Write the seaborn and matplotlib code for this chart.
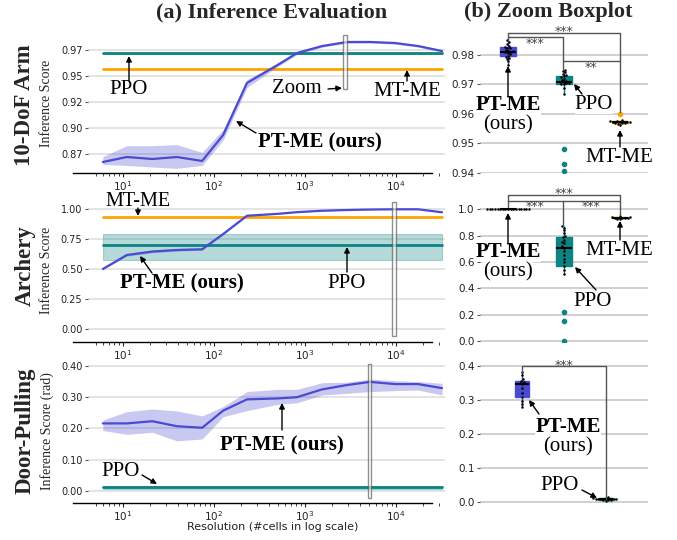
import numpy as np
import pandas as pd
import matplotlib
matplotlib.use("Agg")
import matplotlib.pyplot as plt
import seaborn as sns
from matplotlib.patches import Rectangle, FancyArrowPatch
from matplotlib.ticker import LogLocator, NullFormatter

# ---------------- data ----------------
resolution = [6, 11, 21, 39, 74, 126, 230, 500, 816, 1540, 2900, 5180, 9750, 17500, 32000]

arm_ptme = [0.8673, 0.8721, 0.8702, 0.8721, 0.8683, 0.8933, 0.9433, 0.9606, 0.9721, 0.9788,
            0.9827, 0.9827, 0.9817, 0.9788, 0.9740]
arm_ptme_hi = [0.8725, 0.8830, 0.8830, 0.8840, 0.8765, 0.8985, 0.9465, 0.9625, 0.9735, 0.9800,
               0.9837, 0.9837, 0.9827, 0.9798, 0.9750]
arm_ptme_lo = [0.8650, 0.8640, 0.8625, 0.8612, 0.8640, 0.8885, 0.9390, 0.9590, 0.9707, 0.9776,
               0.9817, 0.9817, 0.9807, 0.9778, 0.9730]
arm_ppo = [0.9718, 0.9713, 0.9723]      # mean, low, high
arm_mtme = [0.9570, 0.9567, 0.9573]

archery_ptme = [0.500, 0.617, 0.646, 0.659, 0.665, 0.793, 0.946, 0.962, 0.976, 0.988,
                0.994, 0.998, 1.000, 1.000, 0.975]
archery_ptme_hi = [0.505, 0.630, 0.660, 0.672, 0.675, 0.800, 0.950, 0.965, 0.978, 0.990,
                   0.996, 0.999, 1.000, 1.000, 0.978]
archery_ptme_lo = [0.495, 0.608, 0.636, 0.650, 0.658, 0.786, 0.942, 0.959, 0.974, 0.986,
                   0.992, 0.997, 1.000, 1.000, 0.972]
archery_ppo = [0.705, 0.574, 0.792]
archery_mtme = [0.933, 0.929, 0.937]

door_ptme = [0.216, 0.216, 0.223, 0.207, 0.202, 0.257, 0.293, 0.296, 0.300, 0.325,
             0.339, 0.349, 0.342, 0.342, 0.329]
door_ptme_hi = [0.227, 0.2535, 0.262, 0.256, 0.240, 0.270, 0.318, 0.325, 0.325, 0.3465,
                0.348, 0.358, 0.353, 0.350, 0.3445]
door_ptme_lo = [0.193, 0.181, 0.1875, 0.160, 0.166, 0.2375, 0.257, 0.277, 0.282, 0.307,
                0.3125, 0.318, 0.321, 0.323, 0.307]
door_ppo = [0.011, 0.006, 0.016]

# zoom windows (x0, x1, y0, y1)
arm_zoom = [2620, 2896, 0.9375, 0.9894]
archery_zoom = [9040, 10000, -0.0586, 1.061]
door_zoom = [4920, 5310, -0.0231, 0.4064]

# boxplot samples
arm_box_ptme = [0.9766, 0.9778, 0.9786, 0.9791, 0.9793, 0.9798, 0.9803, 0.9807, 0.9810, 0.9811,
                0.9812, 0.9815, 0.9818, 0.9822, 0.9825, 0.9827, 0.9832, 0.9838, 0.9844, 0.9850]
arm_box_ppo = [0.9406, 0.9432, 0.9482, 0.9668, 0.9688, 0.9700, 0.9702, 0.9704, 0.9706, 0.9708,
               0.9710, 0.9713, 0.9716, 0.9720, 0.9724, 0.9729, 0.9732, 0.9736, 0.9741, 0.9746,
               0.9750]
arm_box_mtme = [0.9564, 0.9567, 0.9569, 0.9570, 0.9571, 0.9572, 0.9572, 0.9573, 0.9574,
                0.9575, 0.9577, 0.9579, 0.9600]
archery_box_ptme = [1.0] * 17
archery_box_ppo = [0.0, 0.153, 0.221, 0.508, 0.535, 0.571, 0.600, 0.625, 0.650, 0.680, 0.706,
                   0.720, 0.740, 0.755, 0.770, 0.787, 0.800, 0.820, 0.840, 0.860, 0.873]
archery_box_mtme = [0.926, 0.930, 0.933, 0.935, 0.936, 0.937, 0.939, 0.942, 0.946]
door_box_ptme = [0.279, 0.287, 0.298, 0.308, 0.320, 0.335, 0.347, 0.350, 0.353, 0.3565,
                 0.362, 0.372, 0.382]
door_box_ppo = [0.004, 0.006, 0.007, 0.008, 0.009, 0.0095, 0.010, 0.0105, 0.011, 0.012,
                0.013, 0.015]

methods3 = ["PT-ME", "PPO", "MT-ME"]
methods2 = ["PT-ME", "PPO"]

left_yticks = [[0.875, 0.9, 0.925, 0.95, 0.975], [0.0, 0.25, 0.5, 0.75, 1.0],
               [0.0, 0.1, 0.2, 0.3, 0.4]]
left_ylabels = [["0.87", "0.90", "0.92", "0.95", "0.97"],
                ["0.00", "0.25", "0.50", "0.75", "1.00"],
                ["0.00", "0.10", "0.20", "0.30", "0.40"]]
right_yticks = [[0.94, 0.95, 0.96, 0.97, 0.98], [0.0, 0.2, 0.4, 0.6, 0.8, 1.0],
                [0.0, 0.1, 0.2, 0.3, 0.4]]
right_ylabels = [["0.94", "0.95", "0.96", "0.97", "0.98"],
                 ["0.0", "0.2", "0.4", "0.6", "0.8", "1.0"],
                 ["0.0", "0.1", "0.2", "0.3", "0.4"]]
row_titles = ["10-DoF Arm", "Archery", "Door-Pulling"]
row_ylabels = ["Inference Score", "Inference Score", "Inference Score (rad)"]

# ---------------- style ----------------
sns.set_theme(style="white")
plt.rcParams['font.family'] = ['DejaVu Sans']
SERIF = ['Liberation Serif', 'DejaVu Serif']
BLUE = "#4a4ad3"
TEAL = "#0e8383"
ORANGE = "#ffa500"
W, H = 677, 540

fig = plt.figure(figsize=(6.77, 5.4), dpi=100)


def fx(px):
    return px / W


def fy(py):
    return 1 - py / H


rows_y = [(35, 173), (197, 341.7), (360, 503.3)]
left_ylim = [(0.85673, 0.98942), (-0.1089, 1.103), (-0.0401, 0.4192)]
right_ylim = [(0.94014, 0.98676), (-0.0068, 1.0935), (-0.003, 0.4174)]

ax_left = []
ax_right = []
for (t, b) in rows_y:
    ax_left.append(fig.add_axes([fx(88), fy(b), fx(445) - fx(88), (b - t) / H]))
    ax_right.append(fig.add_axes([fx(480), fy(b), fx(648) - fx(480), (b - t) / H]))
for a in ax_left + ax_right:
    a.patch.set_alpha(0)

# ---------------- left panels ----------------
left_data = [
    (arm_ptme, arm_ptme_lo, arm_ptme_hi, arm_ppo, arm_mtme, arm_zoom),
    (archery_ptme, archery_ptme_lo, archery_ptme_hi, archery_ppo, archery_mtme, archery_zoom),
    (door_ptme, door_ptme_lo, door_ptme_hi, door_ppo, None, door_zoom),
]
xr = [resolution[0], resolution[-1]]
for i, ax in enumerate(ax_left):
    ptme, lo, hi, ppo, mtme, zoom = left_data[i]
    ax.set_xscale('log')
    ax.fill_between(xr, [ppo[1]] * 2, [ppo[2]] * 2, color=TEAL, alpha=0.3, lw=0.8,
                    edgecolor=TEAL, zorder=2)
    sns.lineplot(x=xr, y=[ppo[0]] * 2, color=TEAL, lw=2, ax=ax, zorder=3)
    if mtme is not None:
        ax.fill_between(xr, [mtme[1]] * 2, [mtme[2]] * 2, color=ORANGE, alpha=0.3, lw=0, zorder=2)
        sns.lineplot(x=xr, y=[mtme[0]] * 2, color=ORANGE, lw=2, ax=ax, zorder=3)
    ax.fill_between(resolution, lo, hi, color=BLUE, alpha=0.3, lw=0, zorder=4)
    sns.lineplot(x=resolution, y=ptme, color=BLUE, lw=1.6, ax=ax, zorder=5)
    ax.add_patch(Rectangle((zoom[0], zoom[2]), zoom[1] - zoom[0], zoom[3] - zoom[2],
                           facecolor='white', alpha=0.6, edgecolor='#444444', lw=1,
                           zorder=6, clip_on=False))
    ax.set_xlim(4.12, 34500)
    ax.set_ylim(*left_ylim[i])
    ax.set_yticks(left_yticks[i])
    ax.set_yticklabels(left_ylabels[i])
    ax.xaxis.set_major_locator(LogLocator(base=10, numticks=10))
    ax.xaxis.set_minor_locator(LogLocator(base=10, subs=np.arange(2, 10), numticks=20))
    ax.xaxis.set_minor_formatter(NullFormatter())
    ax.set_xlabel('')
    ax.set_ylabel('')
    for s in ['left', 'right', 'top']:
        ax.spines[s].set_visible(False)
    ax.spines['bottom'].set_color('black')
    ax.spines['bottom'].set_linewidth(1)
    ax.spines['bottom'].set_bounds(2.82, 24900)
    ax.grid(axis='y', color='#dcdcdc', lw=1.1)
    ax.grid(axis='x', visible=False)
    ax.set_axisbelow(True)
    ax.tick_params(axis='y', length=2.5, width=0.8, color='#555555', labelsize=7, pad=1.5,
                   left=True, labelcolor='#222222')
    ax.tick_params(axis='x', which='major', length=3, width=0.8, labelsize=7.5, pad=1.5,
                   bottom=True, labelcolor='#222222')
    ax.tick_params(axis='x', which='minor', length=2, width=0.6, bottom=True)

# ---------------- right panels ----------------
box_sets = [
    (methods3, [arm_box_ptme, arm_box_ppo, arm_box_mtme], [BLUE, TEAL, ORANGE], 0.3),
    (methods3, [archery_box_ptme, archery_box_ppo, archery_box_mtme], [BLUE, TEAL, ORANGE], 0.3),
    (methods2, [door_box_ptme, door_box_ppo], [BLUE, TEAL], 0.16),
]
for i, ax in enumerate(ax_right):
    order, samples, cols, width = box_sets[i]
    frames = []
    inl_frames = []
    for m, s in zip(order, samples):
        arr = np.array(s)
        q1, q3 = np.percentile(arr, [25, 75])
        iqr = q3 - q1
        keep = (arr >= q1 - 1.5 * iqr) & (arr <= q3 + 1.5 * iqr)
        frames.append(pd.DataFrame({'method': m, 'value': arr}))
        inl_frames.append(pd.DataFrame({'method': m, 'value': arr[keep]}))
    for m, c, f in zip(order, cols, frames):
        sns.boxplot(data=f, x='method', y='value', order=order, width=width, color=c,
                    linecolor=c, saturation=1, linewidth=1, showcaps=False, fliersize=3,
                    flierprops=dict(marker='o', markerfacecolor=c, markeredgecolor=c),
                    medianprops=dict(color='black', linewidth=1.5),
                    whiskerprops=dict(color=c, linewidth=1), ax=ax, zorder=3)
    inl = pd.concat(inl_frames)
    sns.swarmplot(data=inl, x='method', y='value', order=order, color='black', size=1.8,
                  ax=ax, zorder=4)
    ax.set_ylim(*right_ylim[i])
    ax.set_xlim(-0.5, len(order) - 0.5)
    ax.set_yticks(right_yticks[i])
    ax.set_yticklabels(right_ylabels[i])
    ax.set_xticks([])
    ax.set_xlabel('')
    ax.set_ylabel('')
    for s in ax.spines.values():
        s.set_visible(False)
    ax.grid(axis='y', color='#c4c4c4', lw=1.1)
    ax.set_axisbelow(True)
    ax.tick_params(axis='y', length=2.5, width=0.8, color='#555555', labelsize=7.5, pad=1.5,
                   left=True, labelcolor='#222222')

# ---------------- significance brackets (figure pixels) ----------------
BR = '#555555'


def line_px(pts):
    xs = [fx(p[0]) for p in pts]
    ys = [fy(p[1]) for p in pts]
    fig.add_artist(plt.Line2D(xs, ys, color=BR, lw=1, transform=fig.transFigure, zorder=10))


def stars(x, y, s):
    fig.text(fx(x), fy(y), s, ha='center', va='center', fontsize=9, color='#444444')


# row 1
line_px([(507.7, 40), (507.7, 32.7), (620, 32.7), (620, 112)])
line_px([(507.7, 36.7), (563, 36.7), (563, 70)])
line_px([(563, 61), (620, 61)])
stars(564, 31.5, '***')
stars(535, 43, '***')
stars(591, 67.5, '**')
# row 2
line_px([(507.7, 207), (507.7, 195), (620, 195), (620, 215)])
line_px([(507.7, 200.7), (620, 200.7)])
line_px([(563, 200.7), (563, 226)])
stars(564, 193, '***')
stars(535, 206.5, '***')
stars(591, 206.5, '***')
# row 3
line_px([(521.7, 372), (521.7, 366), (606, 366), (606, 499)])
stars(564, 365, '***')

# ---------------- annotations ----------------


def label(x, y, s, bold=False, size=15, bg=False):
    kw = dict(ha='center', va='center', fontsize=size, family=SERIF, color='black', zorder=20)
    if bold:
        kw['fontweight'] = 'bold'
    if bg:
        kw['bbox'] = dict(facecolor='white', edgecolor='none', pad=0)
    fig.text(fx(x), fy(y), s, **kw)


def arrow(tail, head):
    fig.add_artist(FancyArrowPatch((fx(tail[0]), fy(tail[1])), (fx(head[0]), fy(head[1])),
                                   transform=fig.transFigure, arrowstyle='-|>',
                                   mutation_scale=8, lw=1, color='black',
                                   shrinkA=0, shrinkB=0, zorder=21))


# left row 1
label(129, 90, 'PPO'); arrow((129, 81), (129, 56))
label(297, 89, 'Zoom'); arrow((328, 89), (342, 88))
label(407, 91, 'MT-ME'); arrow((407, 81), (407, 70))
label(320, 142, 'PT-ME (ours)', bold=True); arrow((256, 133), (236, 121))
# left row 2
label(138, 201, 'MT-ME', size=14.5); arrow((138, 208), (138, 216))
label(182, 283, 'PT-ME (ours)', bold=True); arrow((152, 273), (140, 256))
label(347, 284, 'PPO'); arrow((347, 272), (347, 247))
# left row 3
label(282, 445, 'PT-ME (ours)', bold=True); arrow((282, 430), (282, 403))
label(121, 471, 'PPO'); arrow((142, 475), (157, 484))
# right row 1
label(508, 105.5, 'PT-ME', bold=True, bg=True)
label(508, 125, '(ours)', bg=True); arrow((508, 97), (508, 66))
label(594, 104, 'PPO', bg=True); arrow((582, 94), (574, 84))
label(619, 158, 'MT-ME', bg=True); arrow((620, 147), (620, 130))
# right row 2
label(508, 252, 'PT-ME', bold=True, bg=True)
label(508, 271.5, '(ours)', bg=True); arrow((508, 244), (508, 213))
label(619, 250, 'MT-ME', bg=True); arrow((620, 240), (620, 221))
label(593, 302, 'PPO', bg=True); arrow((596, 290), (575, 267))
# right row 3
label(568, 427, 'PT-ME', bold=True, bg=True)
label(568, 446.5, '(ours)', bg=True); arrow((539, 414), (529, 400))
label(560, 486, 'PPO', bg=True); arrow((582, 490), (597, 498))

# ---------------- titles and labels ----------------
fig.text(fx(272), fy(12.5), '(a) Inference Evaluation', ha='center', va='center',
         fontsize=16, fontweight='bold', family=SERIF)
fig.text(fx(548), fy(12.5), '(b) Zoom Boxplot', ha='center', va='center',
         fontsize=16, fontweight='bold', family=SERIF)
row_centers = [(105, 103), (266, 270), (431, 431)]
for (yc1, yc2), t, yl in zip(row_centers, row_titles, row_ylabels):
    fig.text(fx(25), fy(yc1), t, rotation=90, ha='center', va='center', fontsize=16.5,
             fontweight='bold', family=SERIF)
    fig.text(fx(47), fy(yc2), yl, rotation=90, ha='center', va='center', fontsize=10,
             family=SERIF)
fig.text(fx(273), fy(527), 'Resolution (#cells in log scale)', ha='center', va='center',
         fontsize=8, color='#222222')

fig.savefig('out.png', dpi=100)
